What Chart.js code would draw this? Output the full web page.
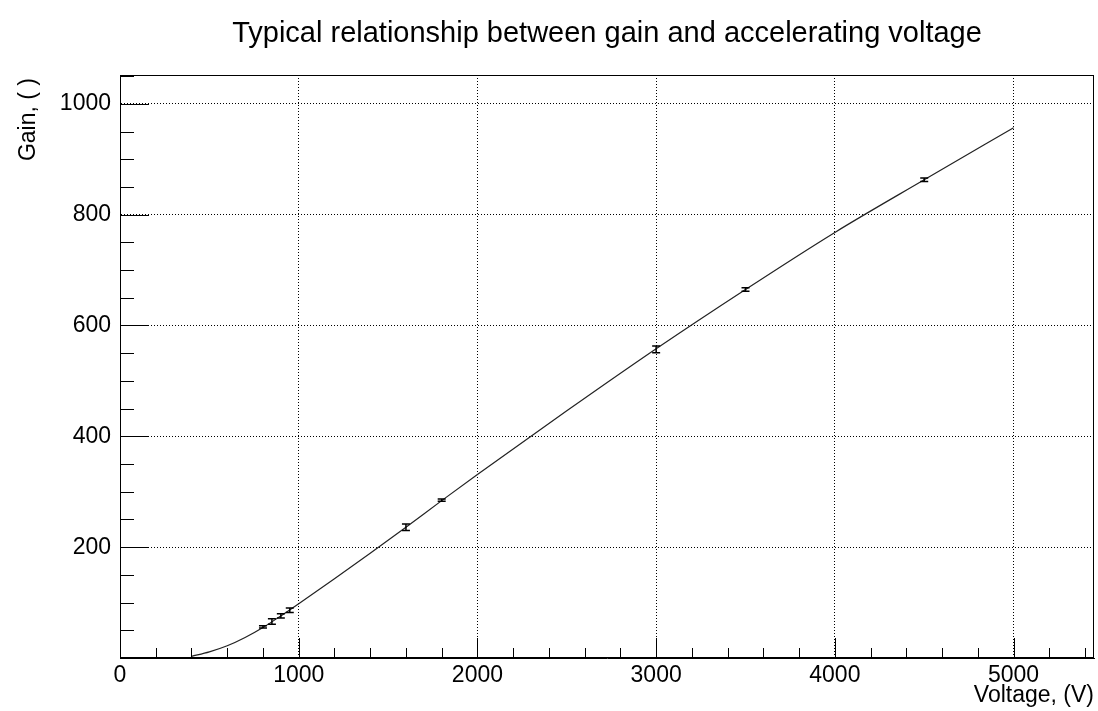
<!DOCTYPE html>
<html>
<head>
<meta charset="utf-8">
<script src="https://cdn.jsdelivr.net/npm/chart.js@4.4.1/dist/chart.umd.min.js"></script>
<style>
  html, body { margin: 0; padding: 0; background: #fff; }
  #wrap { width: 1098px; height: 711px; }
</style>
</head>
<body>
<div id="wrap"><canvas id="grafico" width="1098" height="711"></canvas></div>
<script>
// Puntos medidos (tension en V, ganancia, error)
const voltajes = [800, 850, 900, 950, 1600, 1800, 3000, 3500, 4500];
const ganancias = [56, 66, 76, 86, 236, 285, 557, 665, 863];
const errores = [2, 5, 4, 4, 6, 2, 6, 3, 3];

// Curva tipica (ajuste)
const curvaV = [400, 500, 600, 700, 800, 900, 1000, 1200, 1400, 1600, 1800, 2000, 2500, 3000, 3500, 4000, 4500, 5000];
const curvaG = [3, 11, 22, 37, 55, 76, 98, 143, 189, 236, 284, 331, 446, 558, 665, 768, 863, 957];

// Etiquetas de los ejes
const etiquetasX = [0, 1000, 2000, 3000, 4000, 5000];
const etiquetasY = [200, 400, 600, 800, 1000];

const titulo = "Typical relationship between gain and accelerating voltage";
const tituloX = "Voltage, (V)";
const tituloY = "Gain, ( )";

const fuente = "'Liberation Sans', Arial, Helvetica, sans-serif";

// Marcas de los ejes hacia dentro, marco, barras de error y textos estilo ROOT
const estiloRoot = {
  id: "estiloRoot",
  afterDatasetsDraw(chart) {
    const { ctx, chartArea: a, scales } = chart;
    const sx = scales.x, sy = scales.y;
    ctx.save();

    // barras de error
    ctx.strokeStyle = "#000";
    ctx.lineWidth = 1.5;
    voltajes.forEach((v, i) => {
      const px = sx.getPixelForValue(v);
      const y1 = sy.getPixelForValue(ganancias[i] - errores[i]);
      const y2 = sy.getPixelForValue(ganancias[i] + errores[i]);
      ctx.beginPath();
      ctx.moveTo(px, y1); ctx.lineTo(px, y2);
      ctx.moveTo(px - 4, y1); ctx.lineTo(px + 4, y1);
      ctx.moveTo(px - 4, y2); ctx.lineTo(px + 4, y2);
      ctx.stroke();
    });

    // marco
    ctx.lineWidth = 1;
    ctx.strokeStyle = "#000";
    ctx.setLineDash([]);
    ctx.strokeRect(a.left + 0.5, a.top + 0.5, a.right - a.left - 1, a.bottom - a.top - 1);

    // marcas eje X (cada 200, mayores cada 1000)
    ctx.beginPath();
    for (let v = 0; v <= 5400; v += 200) {
      const px = Math.round(sx.getPixelForValue(v)) + 0.5;
      const largo = v % 1000 === 0 ? 20 : 10;
      ctx.moveTo(px, a.bottom);
      ctx.lineTo(px, a.bottom - largo);
    }
    // marcas eje Y (cada 50, mayores cada 200)
    for (let v = 0; v <= 1050; v += 50) {
      const py = Math.round(sy.getPixelForValue(v)) + 0.5;
      const largo = v % 200 === 0 ? 29 : 14;
      ctx.moveTo(a.left, py);
      ctx.lineTo(a.left + largo, py);
    }
    ctx.stroke();

    // titulos
    ctx.fillStyle = "#000";
    ctx.font = "29px " + fuente;
    ctx.textAlign = "center";
    ctx.textBaseline = "alphabetic";
    ctx.fillText(titulo, (a.left + a.right) / 2, 42);

    ctx.font = "23px " + fuente;
    ctx.textAlign = "right";
    ctx.fillText(tituloX, a.right, 702);

    ctx.translate(35, a.top + 3);
    ctx.rotate(-Math.PI / 2);
    ctx.textAlign = "right";
    ctx.fillText(tituloY, 0, 0);
    ctx.restore();
  }
};

const ctx = document.getElementById("grafico").getContext("2d");

new Chart(ctx, {
  type: "scatter",
  data: {
    datasets: [
      {
        label: "Ajuste",
        data: curvaV.map((v, i) => ({ x: v, y: curvaG[i] })),
        showLine: true,
        borderColor: "#222",
        borderWidth: 1.2,
        pointRadius: 0,
        cubicInterpolationMode: "monotone",
      },
      {
        label: "Medidas",
        data: voltajes.map((v, i) => ({ x: v, y: ganancias[i] })),
        pointRadius: 0,
        showLine: false,
      },
    ],
  },
  options: {
    responsive: false,
    animation: false,
    devicePixelRatio: 1,
    layout: { padding: { top: 75, right: 4, left: 0, bottom: 0 } },
    plugins: {
      legend: { display: false },
      tooltip: { enabled: false },
    },
    scales: {
      x: {
        type: "linear",
        min: 0,
        max: 5450,
        afterFit: (s) => { s.height = 53; },
        afterBuildTicks: (s) => { s.ticks = etiquetasX.map((v) => ({ value: v })); },
        border: { display: true, color: "#000", width: 1, dash: [1, 2] },
        grid: {
          drawTicks: false,
          color: (c) => (c.tick && c.tick.value > 0 ? "#000" : "rgba(0,0,0,0)"),
          lineWidth: 1,
        },
        ticks: {
          autoSkip: false,
          maxRotation: 0,
          padding: 4,
          color: "#000",
          font: { size: 23, family: fuente },
          callback: (v) => String(v),
        },
      },
      y: {
        type: "linear",
        min: 0,
        max: 1052,
        afterFit: (s) => { s.width = 120; },
        afterBuildTicks: (s) => { s.ticks = etiquetasY.map((v) => ({ value: v })); },
        border: { display: true, color: "#000", width: 1, dash: [1, 2] },
        grid: {
          drawTicks: false,
          color: "#000",
          lineWidth: 1,
        },
        ticks: {
          autoSkip: false,
          padding: 9,
          color: "#000",
          font: { size: 23, family: fuente },
          callback: (v) => String(v),
        },
      },
    },
  },
  plugins: [estiloRoot],
});
</script>
</body>
</html>
